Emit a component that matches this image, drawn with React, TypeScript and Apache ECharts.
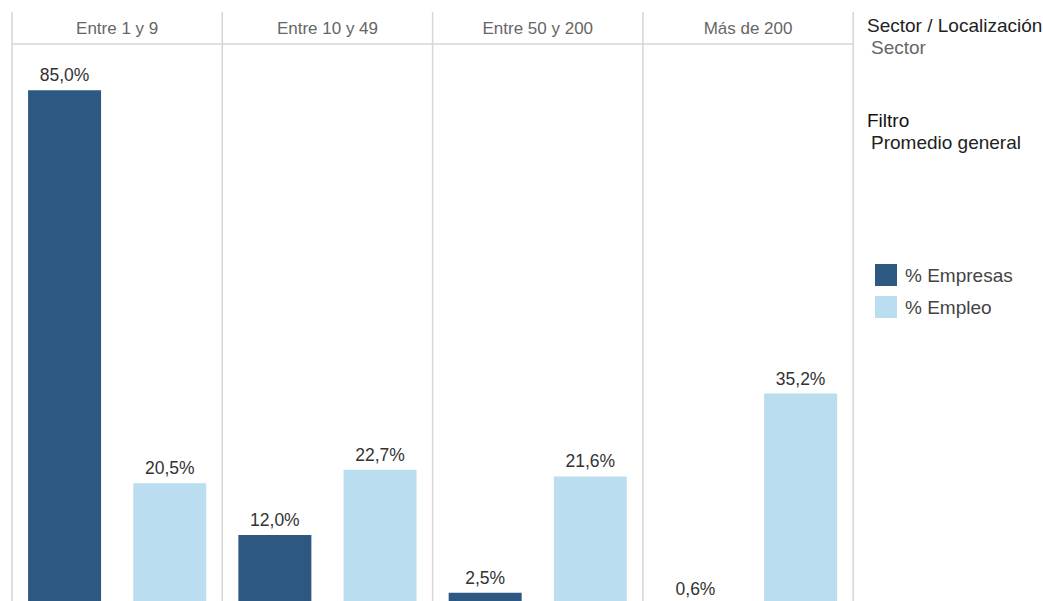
import React, { useEffect, useRef } from "react";
import * as echarts from "echarts";

const panels = ["Entre 1 y 9", "Entre 10 y 49", "Entre 50 y 200", "Más de 200"];
const seriesNames = ["% Empresas", "% Empleo"];
const empresas = [85.0, 12.0, 2.5, 0.6];
const empleo = [20.5, 22.7, 21.6, 35.2];
const colors = ["#2D5882", "#BADDF0"];

const W = 1043;
const H = 640;
const LEFT = 12;
const PANEL_W = 210.3;
const HEADER_TOP = 12;
const GRID_TOP = 44;
const GRID_BOTTOM = 608;
const FONT = "'Liberation Sans', Arial, Helvetica, sans-serif";

const fmt = (v: number) => `${v.toFixed(1).replace(".", ",")}%`;

export default function App() {
  const ref = useRef<HTMLDivElement>(null);
  useEffect(() => {
    if (!ref.current) return;
    const chart = echarts.init(ref.current, undefined, { renderer: "svg" });
    const grids: any[] = [];
    const xAxes: any[] = [];
    const yAxes: any[] = [];
    const series: any[] = [];
    const graphics: any[] = [];
    panels.forEach((p, i) => {
      const left = LEFT + i * PANEL_W;
      grids.push({ left, width: PANEL_W, top: GRID_TOP, height: GRID_BOTTOM - GRID_TOP, containLabel: false });
      xAxes.push({
        type: "category",
        gridIndex: i,
        data: seriesNames,
        axisLine: { show: false },
        axisTick: { show: false },
        axisLabel: { show: false },
      });
      yAxes.push({
        type: "value",
        gridIndex: i,
        min: 0,
        max: 92.6,
        show: false,
        splitLine: { show: false },
      });
      const vals = [empresas[i], empleo[i]];
      seriesNames.forEach((name, s) => {
        series.push({
          type: "bar",
          name,
          xAxisIndex: i,
          yAxisIndex: i,
          barWidth: 73,
          barGap: "-100%",
          data: seriesNames.map((_, k) => (k === s ? vals[s] : "-")),
          itemStyle: { color: colors[s] },
          label: {
            show: true,
            position: "top",
            distance: 6,
            color: "#333",
            fontSize: 17.5,
            fontFamily: FONT,
            formatter: (d: any) => fmt(d.value),
          },
        });
      });
      graphics.push({
        type: "text",
        x: left + PANEL_W / 2,
        y: 28,
        style: {
          text: p,
          textAlign: "center",
          textVerticalAlign: "middle",
          fontSize: 17,
          fontFamily: FONT,
          fill: "#666",
        },
      });
    });
    for (let i = 0; i <= panels.length; i++) {
      const x = LEFT + i * PANEL_W;
      graphics.push({
        type: "line",
        shape: { x1: x, y1: HEADER_TOP, x2: x, y2: H },
        style: { stroke: "#D6D6D6", lineWidth: 1.5 },
      });
    }
    graphics.push({
      type: "line",
      shape: { x1: LEFT, y1: GRID_TOP, x2: LEFT + panels.length * PANEL_W, y2: GRID_TOP },
      style: { stroke: "#D6D6D6", lineWidth: 1.5 },
    });
    const sideText = (text: string, x: number, y: number, fill: string) => ({
      type: "text",
      x,
      y,
      style: { text, fontSize: 19, fontFamily: FONT, fill, textVerticalAlign: "middle" },
    });
    graphics.push(sideText("Sector / Localización", 867, 25, "#222"));
    graphics.push(sideText("Sector", 871, 47, "#666"));
    graphics.push(sideText("Filtro", 867, 120, "#111"));
    graphics.push(sideText("Promedio general", 871, 142, "#222"));

    chart.setOption({
      animation: false,
      grid: grids,
      xAxis: xAxes,
      yAxis: yAxes,
      series,
      graphic: graphics,
      legend: {
        data: seriesNames,
        orient: "vertical",
        left: 870,
        top: 259,
        itemWidth: 22,
        itemHeight: 22,
        itemGap: 10,
        icon: "rect",
        textStyle: { fontSize: 19, fontFamily: FONT, color: "#444", padding: [0, 0, 0, 3] },
      },
    });
    return () => chart.dispose();
  }, []);
  return (
    <div
      ref={ref}
      style={{ position: "absolute", left: 0, top: 0, width: W, height: H }}
    />
  );
}
